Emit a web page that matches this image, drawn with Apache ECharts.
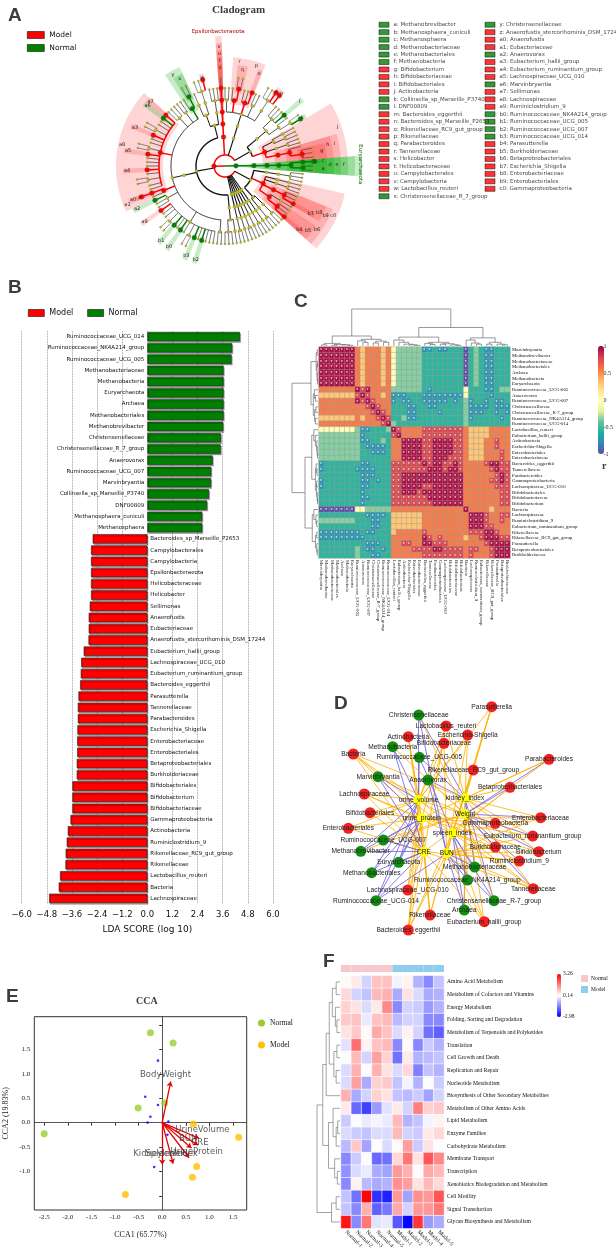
<!DOCTYPE html>
<html>
<head>
<meta charset="utf-8">
<script src="https://cdn.jsdelivr.net/npm/echarts@6/dist/echarts.min.js"></script>
<style>
html, body { margin: 0; padding: 0; background: #fff; }
#fig { width: 616px; height: 1259px; }
</style>
</head>
<body>
<div id="fig"></div>
<script>
// ---------- B: LEfSe LDA scores (positive = Normal, negative = Model) ----------
const ldaNames = ['Ruminococcaceae_UCG_014', 'Ruminococcaceae_NK4A214_group', 'Ruminococcaceae_UCG_005', 'Methanobacteriaceae',
  'Methanobacteria', 'Euryarchaeota', 'Archaea', 'Methanobacteriales', 'Methanobrevibacter', 'Christensenellaceae',
  'Christensenellaceae_R_7_group', 'Anaerovorax', 'Ruminococcaceae_UCG_007', 'Marvinbryantia', 'Collinsella_sp_Marseille_P3740',
  'DNF00809', 'Methanosphaera_cuniculi', 'Methanosphaera', 'Bacteroides_sp_Marseille_P2653', 'Campylobacterales',
  'Campylobacteria', 'Epsilonbacteraeota', 'Helicobacteraceae', 'Helicobacter', 'Sellimonas', 'Anaerofustis', 'Eubacteriaceae',
  'Anaerofustis_stercorihominis_DSM_17244', 'Eubacterium_hallii_group', 'Lachnospiraceae_UCG_010', 'Eubacterium_ruminantium_group',
  'Bacteroides_eggerthii', 'Parasutterella', 'Tannerellaceae', 'Parabacteroides', 'Escherichia_Shigella', 'Enterobacteriaceae',
  'Enterobacteriales', 'Betaproteobacteriales', 'Burkholderiaceae', 'Bifidobacteriales', 'Bifidobacterium', 'Bifidobacteriaceae',
  'Gammaproteobacteria', 'Actinobacteria', 'Ruminiclostridium_9', 'Rikenellaceae_RC9_gut_group', 'Rikenellaceae',
  'Lactobacillus_reuteri', 'Bacteria', 'Lachnospiraceae'];
const ldaScores = [4.42, 4.05, 4.02, 3.64, 3.64, 3.64, 3.64, 3.64, 3.62, 3.51, 3.50, 3.12, 3.05, 3.04, 2.94, 2.85, 2.62, 2.62,
  -2.61, -2.69, -2.69, -2.69, -2.69, -2.69, -2.75, -2.80, -2.80, -2.81, -3.04, -3.16, -3.18, -3.21, -3.29, -3.32, -3.32,
  -3.34, -3.35, -3.35, -3.37, -3.37, -3.58, -3.58, -3.58, -3.67, -3.80, -3.85, -3.90, -3.91, -4.17, -4.23, -4.69];

// ---------- A: cladogram keys and taxonomy ----------
const cladeLetters = ['a', 'b', 'c', 'd', 'e', 'f', 'g', 'h', 'i', 'j', 'k', 'l', 'm', 'n', 'o', 'p', 'q', 'r', 's', 't', 'u', 'v',
  'w', 'x', 'y', 'z', 'a0', 'a1', 'a2', 'a3', 'a4', 'a5', 'a6', 'a7', 'a8', 'a9', 'b0', 'b1', 'b2', 'b3', 'b4', 'b5', 'b6', 'b7',
  'b8', 'b9', 'c0'];
const cladeTaxa = ['Methanobrevibacter', 'Methanosphaera_cuniculi', 'Methanosphaera', 'Methanobacteriaceae', 'Methanobacteriales',
  'Methanobacteria', 'Bifidobacterium', 'Bifidobacteriaceae', 'Bifidobacteriales', 'Actinobacteria', 'Collinsella_sp_Marseille_P3740',
  'DNF00809', 'Bacteroides_eggerthii', 'Bacteroides_sp_Marseille_P2653', 'Rikenellaceae_RC9_gut_group', 'Rikenellaceae',
  'Parabacteroides', 'Tannerellaceae', 'Helicobacter', 'Helicobacteraceae', 'Campylobacterales', 'Campylobacteria',
  'Lactobacillus_reuteri', 'Christensenellaceae_R_7_group', 'Christensenellaceae', 'Anaerofustis_stercorihominis_DSM_17244',
  'Anaerofustis', 'Eubacteriaceae', 'Anaerovorax', 'Eubacterium_hallii_group', 'Eubacterium_ruminantium_group',
  'Lachnospiraceae_UCG_010', 'Marvinbryantia', 'Sellimonas', 'Lachnospiraceae', 'Ruminiclostridium_9',
  'Ruminococcaceae_NK4A214_group', 'Ruminococcaceae_UCG_005', 'Ruminococcaceae_UCG_007', 'Ruminococcaceae_UCG_014',
  'Parasutterella', 'Burkholderiaceae', 'Betaproteobacteriales', 'Escherichia_Shigella', 'Enterobacteriaceae',
  'Enterobacteriales', 'Gammaproteobacteria'];

// taxonomy tree in newick form, "_" = unlabelled taxon
const archaeaClade = '((((((_,_)Methanobrevibacter,(Methanosphaera_cuniculi)Methanosphaera)Methanobacteriaceae)Methanobacteriales)Methanobacteria)Euryarchaeota)Archaea';
const actinoClade = '(((((_,_,_)Bifidobacterium,_)Bifidobacteriaceae)Bifidobacteriales,((_,_)_)_,((_,_)_,(_)_)_)Actinobacteria,((((Collinsella_sp_Marseille_P3740,_)Collinsella,_)_,(DNF00809,_,_,_)_)_)_)_';
const bacteroClade = '(((((Bacteroides_eggerthii,Bacteroides_sp_Marseille_P2653,_,_)Bacteroides)_,(_,_)_,(Rikenellaceae_RC9_gut_group,_,_)Rikenellaceae,((_,_)Parabacteroides,_)Tannerellaceae,(_,_)_)_)_)_';
const epsilonClade = '(((((_)Helicobacter)Helicobacteraceae)Campylobacterales)Campylobacteria)Epsilonbacteraeota';
const bacilliClade = '(((_,_,_)_)_,(((Lactobacillus_reuteri,_,_)Lactobacillus)_,(_)_)_)_';
const clostridiaClade = '((((_,_)Christensenellaceae_R_7_group,_)Christensenellaceae,(_,_)_,(_,_,_)_,(Sellimonas,Marvinbryantia,_,_,(_,_)_,Eubacterium_hallii_group,_,_,(_,_)_,Lachnospiraceae_UCG_010,_,_,_,Eubacterium_ruminantium_group,_,(_,_)_,_,_)Lachnospiraceae,((Anaerofustis_stercorihominis_DSM_17244)Anaerofustis,_)Eubacteriaceae,(Anaerovorax,_,_)_,(Ruminiclostridium_9,_,_,(_,_)_,Ruminococcaceae_UCG_005,_,Ruminococcaceae_NK4A214_group,_,(_,_)_,Ruminococcaceae_UCG_014,_,Ruminococcaceae_UCG_007,_,_,_)Ruminococcaceae,(_,_)_)_)_';
const negativClade = '(((_,_,_)_,(_)_)_)_';
const otherPhyla = ['((((_,_)_)_)_)_', '((((_)_)_)_)_', '((((_,_)_)_)_)_', '((((_)_)_)_)_', '((((_,_)_)_)_)_', '((((_)_)_)_)_'];
const proteoClade = '((((_,_)_)_,((_,_)_)_)_,(((Parasutterella,_,_)Burkholderiaceae,(_)_)Betaproteobacteriales,((Escherichia_Shigella,_,_)Enterobacteriaceae)Enterobacteriales,((_,_)_)_,((_)_)_)Gammaproteobacteria,(((_,_,_)_)_)_)_';

// ---------- C: Spearman correlation among discriminant taxa ----------
const corrTaxa = ['Marvinbryantia', 'Methanobrevibacter', 'Methanobacteriaceae', 'Methanobacteriales', 'Archaea', 'Methanobacteria',
  'Euryarchaeota', 'Ruminococcaceae_UCG-005', 'Anaerovorax', 'Ruminococcaceae_UCG-007', 'Christensenellaceae',
  'Christensenellaceae_R-7_group', 'Ruminococcaceae_NK4A214_group', 'Ruminococcaceae_UCG-014', 'Lactobacillus_reuteri',
  'Eubacterium_hallii_group', 'Actinobacteria', 'Escherichia-Shigella', 'Enterobacteriales', 'Enterobacteriaceae',
  'Bacteroides_eggerthii', 'Tannerellaceae', 'Parabacteroides', 'Gammaproteobacteria', 'Lachnospiraceae_UCG-010',
  'Bifidobacteriales', 'Bifidobacteriaceae', 'Bifidobacterium', 'Bacteria', 'Lachnospiraceae', 'Ruminiclostridium_9',
  'Eubacterium_ruminantium_group', 'Rikenellaceae', 'Rikenellaceae_RC9_gut_group', 'Parasutterella', 'Betaproteobacteriales',
  'Burkholderiaceae'];
// one letter per cell
const corrLevel = { P: -1, B: -0.85, b: -0.72, T: -0.55, g: -0.35, l: 0.02, y: 0.3, o: 0.55, r: 0.76, R: 0.95 };
const corrRows = [
  'RRRRRRR|oyoooyo|l|ggggg|bbTbbTTT|P|TgTbbTTT',
  'RRRRRRR|oyoooyo|l|ggggg|TTTTTTTT|P|TgTbbTTT',
  'RRRRRRR|oyoooyo|l|ggggg|TTTTTTTT|P|TgTbbTTT',
  'RRRRRRR|oyoooyo|l|ggggg|TTTTTTTT|P|TgTbbTTT',
  'RRRRRRR|oyoooyo|l|ggggg|TTTTTTTT|P|TgTbbTTT',
  'RRRRRRR|oyoooyo|l|ggggg|TTTTTTTT|P|TgTbbTTT',
  'RRRRRRR|oyoooyo|l|ggggg|TTTTTTTT|P|TgTbbTTT',
  'ooooooo|RrRoooo|g|ggggg|TbTTTTTT|l|TTTbbTgg',
  'yyyyyyy|rRrooyo|b|bbTTT|bbbbbbbb|l|TTTTbTTT',
  'ooooooo|RrRrooo|b|TbbTT|bbbbbTbT|g|bTTbTbbT',
  'ooooooo|oorRroo|T|TTbbT|TbbTTTTT|g|bbbbTbbb',
  'ooooooo|ooorRro|T|TTbbT|TTTbTTTT|g|bbbTTbTb',
  'yyyyyyy|oyoorRr|T|TgbbT|TTTTTTTT|g|bTTTTTbT',
  'ooooooo|ooooorR|g|TTTTT|TTTTTTTT|g|TTTTTTTT',
  'lllllll|gbbTTTg|R|roooo|rrrrrrrr|o|yyyyoooo',
  'ggggggg|gbTTTTT|r|Roooo|rrrrrrrr|o|yyyyoooo',
  'ggggggg|gbbTTgT|o|oRRRR|rrRRRRrr|o|yyyooroo',
  'ggggggg|gTbbbbT|o|oRRRR|rrRRRRrr|o|yyyooroo',
  'ggggggg|gTTbbbT|o|oRRRR|rrRRRRrr|o|yyyoooro',
  'ggggggg|gTTTTTT|o|oRRRR|rrRRRrrr|o|yyyoooro',
  'bTTTTTT|TbbTTTT|r|rrrrr|RrRRrrRr|o|ooorRRrr',
  'bTTTTTT|bbbbTTT|r|rrrrr|rRRRrRRr|o|oooorRrr',
  'TTTTTTT|TbbbTTT|r|rRRRR|RRRRRRRR|o|ooooorRr',
  'bTTTTTT|TbbTbTT|r|rRRRR|RRRRRRRR|o|oooorrRr',
  'bTTTTTT|TbbTTTT|r|rRRRR|rrRRRRRR|o|ooooorrr',
  'TTTTTTT|TbTTTTT|r|rRRRr|RRRRRRRR|o|oooooorr',
  'TTTTTTT|TbbTTTT|r|rrrrr|rRRRRRRR|o|oooooorr',
  'TTTTTTT|TbTTTTT|r|rrrrr|rrRRRRRR|o|oooooorr',
  'PPPPPPP|llggggg|o|ooooo|oooooooo|R|ooooyooo',
  'TTTTTTT|TTbbbbT|y|yyyyy|oooooooo|o|RRRroorr',
  'ggggggg|TTTbbTT|y|yyyyy|oooooooo|o|RRRrooro',
  'TTTTTTT|TTTbbTT|y|yyyyy|oooooooo|o|RRRrrooo',
  'bbbbbbb|bTbbTTT|y|ooooo|rooooooo|o|rrrRRroo',
  'bbbbbbb|bbTTTTT|o|ooooo|Rroroooo|y|oorRRRrr',
  'TTTTTTT|TTbbbTT|o|orroo|RRrrrooo|o|ooorRRRR',
  'TTTTTTT|gTbbTbT|o|ooorr|rrRRrrrr|o|rroorRRR',
  'TTTTTTT|gTTbbTT|o|ooooo|rrrrrrrr|o|rooorRRR'
];
// clustering of the taxa: [left, right, height], leaf = taxon index
const corrTree = [
  [[[0, 1, 0.03], [[2, 3, 0.02], [4, [5, 6, 0.02], 0.03], 0.04], 0.07],
   [[7, [8, 9, 0.1], 0.14], [[10, 11, 0.08], [12, 13, 0.1], 0.13], 0.18], 0.27],
  [[[14, [15, [16, [17, [18, 19, 0.02], 0.03], 0.05], 0.1], 0.16],
    [[20, [21, 22, 0.04], 0.07], [[23, 24, 0.05], [25, [26, 27, 0.02], 0.03], 0.06], 0.1], 0.24],
   [[28, [29, [30, 31, 0.05], 0.08], 0.16], [[32, 33, 0.05], [34, [35, 36, 0.03], 0.05], 0.1], 0.22], 0.5],
  1.0];

// ---------- D: correlation network ----------
const netRed = [['Parasutterella', 171.7, 6.7], ['Lactobacillus_reuteri', 126, 26], ['Escherichia-Shigella', 147.7, 35],
  ['Actinobacteria', 88.3, 36.7], ['Bifidobacteriaceae', 124, 43.3], ['Bacteria', 33.3, 54], ['Parabacteroides', 229, 59.3],
  ['Rikenellaceae_RC9_gut_group', 153.3, 70], ['Betaproteobacteriales', 190, 87.3], ['Lachnospiraceae', 44.3, 94],
  ['Bifidobacteriales', 50, 112.7], ['Enterobacteriaceae', 220.7, 117.7], ['Gammaproteobacteria', 175.3, 123.3],
  ['Enterobacteriales', 28.3, 128.3], ['Eubacterium_ruminantium_group', 212.7, 136], ['Burkholderiaceae', 175.3, 147],
  ['Bifidobacterium', 218.7, 151.7], ['Ruminiclostridium_9', 199.3, 161], ['Tannerellaceae', 213.3, 188.7],
  ['Lachnospiraceae_UCG-010', 87.7, 190], ['Rikenellaceae', 110, 215], ['Eubacterium_hallii_group', 164.3, 221.7],
  ['Bacteroides_eggerthii', 88.3, 230]];
const netGreen = [['Christensenellaceae', 98.7, 15], ['Methanobacteria', 72.7, 46.7], ['Ruminococcaceae_UCG-005', 99.3, 57.3],
  ['Marvinbryantia', 58, 76.7], ['Anaerovorax', 108, 80], ['Ruminococcaceae_UCG-007', 63.3, 140], ['Methanobrevibacter', 40.7, 151.3],
  ['Euryarchaeota', 78.7, 162.3], ['Methanobacteriales', 51.7, 172.7], ['Methanobacteriaceae', 154.7, 167],
  ['Ruminococcaceae_NK4A214_group', 147.3, 180], ['Christensenellaceae_R-7_group', 174, 200.7], ['Archaea', 144.3, 210],
  ['Ruminococcaceae_UCG-014', 56, 200.7]];
const netEnv = [['urine_volume', 98.7, 100], ['kidney_index', 145, 98.3], ['Weight', 145, 114], ['urine_protein', 101.7, 118.3],
  ['spleen_index', 132.3, 133.3], ['CRE', 104, 151.7], ['BUN', 126.7, 153.3]];
// [clinical index, positively correlated taxa, negatively correlated taxa]
const netEdges = [
  ['urine_volume', 'Bacteria Lachnospiraceae Bifidobacteriales Enterobacteriales Actinobacteria Lactobacillus_reuteri Bifidobacteriaceae Escherichia-Shigella Parasutterella Lachnospiraceae_UCG-010 Bacteroides_eggerthii Rikenellaceae Gammaproteobacteria Burkholderiaceae Tannerellaceae',
    'Methanobacteria Marvinbryantia Christensenellaceae Ruminococcaceae_UCG-005 Methanobrevibacter Methanobacteriales Ruminococcaceae_UCG-014 Euryarchaeota'],
  ['kidney_index', 'Parasutterella Parabacteroides Betaproteobacteriales Enterobacteriaceae Rikenellaceae_RC9_gut_group Escherichia-Shigella Lactobacillus_reuteri Bifidobacterium Eubacterium_ruminantium_group Tannerellaceae Eubacterium_hallii_group Bacteria',
    'Christensenellaceae Anaerovorax Ruminococcaceae_UCG-005 Methanobacteriaceae Archaea Christensenellaceae_R-7_group'],
  ['Weight', 'Christensenellaceae Methanobacteria Marvinbryantia Anaerovorax Ruminococcaceae_UCG-007 Methanobrevibacter Ruminococcaceae_NK4A214_group Christensenellaceae_R-7_group Archaea',
    'Parabacteroides Betaproteobacteriales Enterobacteriaceae Eubacterium_ruminantium_group Bifidobacterium Ruminiclostridium_9 Tannerellaceae Burkholderiaceae'],
  ['urine_protein', 'Bacteria Lachnospiraceae Bifidobacteriales Enterobacteriales Actinobacteria Bifidobacteriaceae Parabacteroides Enterobacteriaceae Gammaproteobacteria Eubacterium_ruminantium_group Bifidobacterium Lachnospiraceae_UCG-010 Bacteroides_eggerthii Rikenellaceae',
    'Marvinbryantia Methanobrevibacter Methanobacteriales Ruminococcaceae_UCG-007 Euryarchaeota Ruminococcaceae_UCG-014'],
  ['spleen_index', 'Parasutterella Rikenellaceae_RC9_gut_group Betaproteobacteriales Enterobacteriaceae Burkholderiaceae Ruminiclostridium_9 Tannerellaceae Eubacterium_hallii_group Rikenellaceae Bacteroides_eggerthii Lachnospiraceae Bacteria',
    'Methanobacteriaceae Ruminococcaceae_NK4A214_group Christensenellaceae_R-7_group Archaea Ruminococcaceae_UCG-005'],
  ['CRE', 'Bacteria Enterobacteriales Bifidobacteriales Lachnospiraceae Lachnospiraceae_UCG-010 Bacteroides_eggerthii Rikenellaceae Eubacterium_hallii_group Tannerellaceae Ruminiclostridium_9 Parabacteroides Actinobacteria Lactobacillus_reuteri',
    'Methanobrevibacter Methanobacteriales Ruminococcaceae_UCG-007 Ruminococcaceae_UCG-014 Euryarchaeota Marvinbryantia Methanobacteria'],
  ['BUN', 'Tannerellaceae Eubacterium_hallii_group Rikenellaceae Bacteroides_eggerthii Bifidobacterium Ruminiclostridium_9 Burkholderiaceae Eubacterium_ruminantium_group Enterobacteriaceae Parasutterella Escherichia-Shigella Bifidobacteriaceae',
    'Archaea Christensenellaceae_R-7_group Ruminococcaceae_NK4A214_group Methanobacteriaceae Ruminococcaceae_UCG-014 Anaerovorax Christensenellaceae']
];

// ---------- E: CCA ----------
const ccaXRange = [-2.71, 1.79];
const ccaYRange = [-1.79, 2.17];
const ccaNormal = [[-0.25, 1.84], [0.23, 1.63], [0.05, 0.40], [-0.51, 0.30], [-2.5, -0.23]];
const ccaModel = [[0.66, -0.03], [1.62, -0.30], [0.73, -0.90], [0.64, -1.12], [-0.78, -1.47]];
const ccaTaxa = [[-0.09, 1.27], [-0.36, 0.53], [-0.09, 0.36], [-0.25, 0.12], [-0.31, 0.0], [0.13, 0.02], [0.11, -0.25], [-0.17, -0.91]];
const ccaEnv = [['BodyWeight', 0.18, 0.84], ['UrineVolume', 0.78, -0.32], ['CRE', 0.76, -0.46], ['BUN', 0.62, -0.52],
  ['UrineProtein', 0.57, -0.72], ['KidneyIndex', 0.23, -0.84], ['SpleenIndex', 0.0, -0.86]];
const ccaEnvLabel = [['BodyWeight', 0.07, 0.99], ['UrineVolume', 0.85, -0.15], ['BUN', 0.55, -0.34], ['CRE', 0.80, -0.42],
  ['UrineProtein', 0.73, -0.59], ['KidneyIndex', -0.06, -0.63], ['SpleenIndex', 0.2, -0.63]];
const ccaYLabels = [-1, -0.5, 0, 0.5, 1, 1.5];

// ---------- F: KEGG level-2 pathways, z-scores ----------
const fSamples = ['Normal-1', 'Normal-2', 'Normal-3', 'Normal-4', 'Normal-5', 'Model-1', 'Model-2', 'Model-3', 'Model-4', 'Model-5'];
const fPathways = ['Amino Acid Metabolism', 'Metabolism of Cofactors and Vitamins', 'Energy Metabolism', 'Folding, Sorting and Degradation',
  'Metabolism of Terpenoids and Polyketides', 'Translation', 'Cell Growth and Death', 'Replication and Repair', 'Nucleotide Metabolism',
  'Biosynthesis of Other Secondary Metabolites', 'Metabolism of Other Amino Acids', 'Lipid Metabolism', 'Enzyme Families',
  'Carbohydrate Metabolism', 'Membrane Transport', 'Transcription', 'Xenobiotics Biodegradation and Metabolism', 'Cell Motility',
  'Signal Transduction', 'Glycan Biosynthesis and Metabolism'];
const fValues = [
  [0.2, 0.4, -0.4, 0.9, 0.9, 0.0, 0.3, -0.8, -1.3, -0.6],
  [0.6, -0.4, -0.6, 1.0, 1.1, -0.9, 0.5, -0.3, -0.9, -0.8],
  [0.7, 0.5, -0.3, 0.4, 1.6, -1.3, -0.4, -0.5, -1.1, -0.8],
  [0.8, 0.9, -0.1, 0.9, 1.0, -0.7, -0.4, -0.4, -1.3, -1.3],
  [0.5, 0.8, 0.2, 1.2, 0.9, -0.3, 0.3, -0.4, -1.6, -1.8],
  [-0.2, 1.9, 0.3, 0.9, 1.0, -1.3, 0.2, -1.3, -0.5, -0.8],
  [0.1, 1.0, -0.4, 1.3, 0.7, -1.6, 0.4, -0.8, -0.7, -0.6],
  [-0.3, 1.1, 0.1, 1.1, 0.5, -0.3, 0.6, -1.4, -0.6, -0.8],
  [-0.3, 1.3, -0.9, 0.7, 0.8, -0.6, 0.0, -0.8, 0.1, -0.5],
  [1.1, -0.9, -0.4, 0.7, 0.5, -0.6, -0.7, -0.5, -1.0, -0.4],
  [0.4, -1.7, -2.2, -1.1, -0.2, 0.4, -0.4, 1.7, 0.7, 0.8],
  [-0.5, 0.1, -0.1, 0.0, -0.1, 1.0, -0.8, -0.6, 0.0, 0.3],
  [-0.3, -0.5, -0.6, -0.3, -0.3, 1.0, -0.4, -0.5, 0.4, 0.6],
  [-0.7, 0.8, -1.0, 0.1, -0.3, 0.2, 1.3, -0.5, 0.5, 0.1],
  [-1.3, -0.5, 0.1, -1.7, -1.6, 0.6, 1.8, 0.5, 2.2, 1.6],
  [-1.2, -0.3, -0.1, -0.9, -1.0, 1.4, 1.1, 0.1, 1.2, 1.0],
  [-1.3, 0.3, -0.7, -0.9, -0.8, 1.5, 1.3, 0.5, 1.0, 0.6],
  [-0.6, -1.6, 3.2, -2.4, -2.6, 1.4, -1.0, 1.5, 1.4, 2.2],
  [-0.6, -1.3, 1.1, -1.8, -1.5, 1.2, -0.4, 1.4, 1.4, 1.8],
  [3.0, -1.3, 1.8, -0.2, -0.1, -1.9, -2.9, 2.6, -1.1, -0.9]
];
const fTree = [[[[[[0, 1, 0.1], [2, [3, 4, 0.08], 0.12], 0.2], [[5, 6, 0.08], [7, 8, 0.1], 0.16], 0.28], 9, 0.36],
  [[10, [[11, 12, 0.06], 13, 0.1], 0.18], [14, [15, 16, 0.07], 0.14], 0.3], 0.45], [[17, 18, 0.1], 19, 0.22], 0.6];
const fGroupColors = { Normal: '#f9c6cc', Model: '#8ecdf0' };

// ================= helpers =================
const classColor = { Model: '#ff0000', Normal: '#008000' };
const wedgeColor = { Model: 'rgba(255,0,0,0.17)', Normal: 'rgba(0,170,0,0.22)' };
const featClass = {};
ldaNames.forEach((nm, i) => { featClass[nm] = ldaScores[i] > 0 ? 'Normal' : 'Model'; });
const keyOf = {};
cladeTaxa.forEach((nm, i) => { keyOf[nm] = cladeLetters[i]; });

function parseNewick(str) {
  let i = 0;
  function node() {
    const n = { children: [] };
    if (str[i] === '(') {
      i++;
      n.children.push(node());
      while (str[i] === ',') { i++; n.children.push(node()); }
      i++;
    }
    let name = '';
    while (i < str.length && ',()'.indexOf(str[i]) < 0) name += str[i++];
    n.name = name;
    return n;
  }
  return node();
}

const cladeNewick = '(' + archaeaClade + ',(' + [actinoClade, bacteroClade, epsilonClade,
  '(' + bacilliClade + ',' + clostridiaClade + ',' + negativClade + ')_'].concat(otherPhyla, [proteoClade]).join(',') + ')Bacteria)Root';
const cladeNodes = [];
let nLeaf = 0;
(function lay(n, d, parent) {
  n.depth = d; n.parent = parent; cladeNodes.push(n);
  if (!n.children.length) { n.a = nLeaf++; n.a0 = n.a1 = n.a; return; }
  n.children.forEach(c => lay(c, d + 1, n));
  const f = n.children[0], l = n.children[n.children.length - 1];
  n.a0 = f.a0; n.a1 = l.a1; n.a = (f.a + l.a) / 2;
})(parseNewick(cladeNewick), 0, null);

const cladeR = [0, 11, 29, 42, 54, 66, 78, 89];
const cladeLineW = [1.4, 1.4, 1.4, 1.2, 0.9, 0.7, 0.55, 0.5];
const outerR = d => 95 + (7 - d) * 7;
function arcPts(api, r, a0, a1) {
  const pts = [];
  const k = Math.max(2, Math.ceil(Math.abs(a1 - a0) / 0.25) + 1);
  for (let j = 0; j < k; j++) pts.push(api.coord([r, a0 + (a1 - a0) * j / (k - 1)]));
  return pts;
}

function dendroSegments(tree) {
  const segs = [];
  (function walk(n) {
    if (typeof n === 'number') return { pos: n, h: 0 };
    const a = walk(n[0]), b = walk(n[1]);
    segs.push([[a.pos, a.h], [a.pos, n[2]], [b.pos, n[2]], [b.pos, b.h]]);
    return { pos: (a.pos + b.pos) / 2, h: n[2] };
  })(tree);
  return segs;
}
function dendroSeries(tree, grid, swap, color) {
  const segs = dendroSegments(tree);
  return {
    type: 'custom', xAxisIndex: grid, yAxisIndex: grid, data: [[0, 0]], silent: true, clip: false,
    renderItem: (params, api) => ({
      type: 'group',
      children: segs.map(s => ({
        type: 'polyline',
        shape: { points: s.map(p => api.coord(swap ? [p[1], p[0]] : p)) },
        style: { stroke: color, lineWidth: 0.6, fill: null }
      }))
    })
  };
}

// correlation heatmap cells
const corrData = [];
corrRows.forEach((row, i) => {
  row.replace(/\|/g, '').split('').forEach((ch, j) => {
    const v = corrLevel[ch];
    corrData.push([j, i, v, Math.abs(v) >= 0.7 ? 1 : 0]);
  });
});

// network nodes and links
const netNodes = [];
netRed.forEach(([n, x, y]) => netNodes.push({ name: n, value: [x, y], symbolSize: 11, itemStyle: { color: '#f22020' } }));
netGreen.forEach(([n, x, y]) => netNodes.push({ name: n, value: [x, y], symbolSize: 11, itemStyle: { color: '#0f900f' } }));
netEnv.forEach(([n, x, y]) => netNodes.push({ name: n, value: [x, y], symbolSize: 10, itemStyle: { color: '#ffff00' } }));
const netLinks = [];
netEdges.forEach(([env, pos, neg]) => {
  pos.split(' ').forEach(t => netLinks.push({ source: env, target: t, lineStyle: { color: '#ffb000' } }));
  neg.split(' ').forEach(t => netLinks.push({ source: env, target: t, lineStyle: { color: '#6a5ee8' } }));
});

const fData = [];
fValues.forEach((row, i) => row.forEach((v, j) => fData.push([j, i, v])));

const serif = 'Liberation Serif';
const sans = 'DejaVu Sans';
const hidden = { show: false };
const axisOff = { axisLine: hidden, axisTick: hidden, axisLabel: hidden, splitLine: hidden };

const option = {
  animation: false,
  backgroundColor: '#fff',
  title: [
    { text: 'A', left: 3, top: 1, textStyle: { fontSize: 19, fontWeight: 'bold', fontFamily: 'Liberation Sans' } },
    { text: 'Cladogram', left: 207, top: 0, textStyle: { fontSize: 11, fontWeight: 'bold', fontFamily: serif } },
    { text: 'B', left: 3, top: 273, textStyle: { fontSize: 19, fontWeight: 'bold', fontFamily: 'Liberation Sans' } },
    { text: 'C', left: 289, top: 287, textStyle: { fontSize: 19, fontWeight: 'bold', fontFamily: 'Liberation Sans' } },
    { text: 'D', left: 329, top: 689, textStyle: { fontSize: 19, fontWeight: 'bold', fontFamily: 'Liberation Sans' } },
    { text: 'E', left: 1, top: 982, textStyle: { fontSize: 19, fontWeight: 'bold', fontFamily: 'Liberation Sans' } },
    { text: 'F', left: 318, top: 947, textStyle: { fontSize: 19, fontWeight: 'bold', fontFamily: 'Liberation Sans' } },
    { text: 'CCA', left: 131, top: 991, textStyle: { fontSize: 10, fontWeight: 'bold', fontFamily: serif } },
    { text: 'r', left: 597, top: 456, textStyle: { fontSize: 10, fontWeight: 'bold', fontFamily: serif } }
  ],
  legend: [
    { data: ['Model', 'Normal'], orient: 'vertical', left: 22, top: 26, itemWidth: 17, itemHeight: 7, itemGap: 5, icon: 'rect',
      itemStyle: { borderColor: '#111', borderWidth: 0.6 }, textStyle: { fontSize: 7.5, fontFamily: sans, color: '#111' }, selectedMode: false },
    { data: ['Model', 'Normal'], orient: 'horizontal', left: 23, top: 304, itemWidth: 16, itemHeight: 7, itemGap: 14, icon: 'rect',
      itemStyle: { borderColor: '#111', borderWidth: 0.6 }, textStyle: { fontSize: 8, fontFamily: sans, color: '#111' }, selectedMode: false },
    { data: [{ name: 'Normal', icon: 'circle', itemStyle: { color: '#9acd32', borderWidth: 0 } }, { name: 'Model', icon: 'circle', itemStyle: { color: '#ffc000', borderWidth: 0 } }],
      orient: 'vertical', left: 253, top: 1014, itemWidth: 7, itemHeight: 7, itemGap: 14, textStyle: { fontSize: 7.5, fontFamily: serif, color: '#111' }, selectedMode: false },
    { data: [{ name: 'Normal', icon: 'rect', itemStyle: { color: fGroupColors.Normal, borderWidth: 0 } }, { name: 'Model', icon: 'rect', itemStyle: { color: fGroupColors.Model, borderWidth: 0 } }],
      orient: 'vertical', left: 581, top: 975, itemWidth: 7, itemHeight: 7, itemGap: 4, padding: 0,
      textStyle: { fontSize: 5.5, fontFamily: serif, color: '#111', padding: [0, 0, 0, -2] }, selectedMode: false }
  ],
  visualMap: [
    { type: 'continuous', seriesIndex: 6, dimension: 2, min: -1, max: 1, left: 598, top: 346, itemWidth: 6, itemHeight: 108,
      padding: 0, calculable: false, show: true, text: null,
      inRange: { color: ['#5e4fa2', '#3288bd', '#1db19c', '#66c2a5', '#e6f598', '#ffffbf', '#fee08b', '#fdae61', '#f46d43', '#d53e4f', '#9e0142'] } },
    { type: 'continuous', seriesIndex: 15, dimension: 2, min: -2.98, max: 3.26, left: 557, top: 974, itemWidth: 4, itemHeight: 43,
      padding: 0, calculable: false, show: true, text: null, inRange: { color: ['#0000ff', '#ffffff', '#ff0000'] } }
  ],
  polar: [{ center: [225, 166], radius: 150 }],
  angleAxis: [{ polarIndex: 0, type: 'value', min: 0, max: nLeaf, startAngle: -360 / nLeaf, clockwise: false, show: false }],
  radiusAxis: [{ polarIndex: 0, type: 'value', min: 0, max: 150, show: false }],
  grid: [
    { left: 21.7, top: 331, width: 251.3, height: 573 },          // 0 B bars
    { left: 384, top: 21, width: 106, height: 179 },              // 1 A key list
    { left: 319, top: 347, width: 191, height: 211 },             // 2 C heatmap
    { left: 319, top: 309, width: 191, height: 37 },              // 3 C top tree
    { left: 292, top: 347, width: 26, height: 211 },              // 4 C left tree
    { left: 598, top: 346, width: 6, height: 108 },               // 5 C colour scale
    { left: 320, top: 700, width: 296, height: 240 },             // 6 D network
    { left: 34.3, top: 1016.7, width: 212.4, height: 193.3, show: true, borderColor: '#333', borderWidth: 1 }, // 7 E
    { left: 341, top: 975.7, width: 103, height: 252.6 },         // 8 F heatmap
    { left: 317, top: 975.7, width: 23, height: 252.6 },          // 9 F tree
    { left: 341, top: 965, width: 103, height: 7 },               // 10 F groups
    { left: 557, top: 974, width: 4, height: 43 }                 // 11 F colour scale
  ],
  xAxis: [
    { gridIndex: 0, type: 'value', min: -6, max: 6, interval: 1.2, name: 'LDA SCORE (log 10)', nameLocation: 'middle', nameGap: 21,
      nameTextStyle: { fontSize: 9, fontFamily: sans, color: '#111' }, axisLine: hidden, axisTick: hidden,
      axisLabel: { fontSize: 8.5, fontFamily: sans, color: '#111', margin: 6,
        formatter: v => (v < -1e-9 ? '\u2212' : '') + Math.abs(v).toFixed(1) },
      splitLine: { show: true, lineStyle: { type: 'dotted', color: '#888', width: 0.8 } } },
    { gridIndex: 1, type: 'value', min: 0, max: 1, ...axisOff },
    { gridIndex: 2, type: 'category', data: corrTaxa, axisLine: hidden, axisTick: hidden, splitLine: hidden,
      axisLabel: { interval: 0, rotate: -90, fontSize: 4.8, fontFamily: serif, color: '#111', margin: 2 } },
    { gridIndex: 3, type: 'value', min: -0.5, max: 36.5, ...axisOff },
    { gridIndex: 4, type: 'value', min: 0, max: 1, inverse: true, ...axisOff },
    { gridIndex: 5, type: 'value', ...axisOff },
    { gridIndex: 6, type: 'value', min: 0, max: 296, ...axisOff },
    { gridIndex: 7, type: 'value', min: ccaXRange[0], max: ccaXRange[1], splitNumber: 9, name: 'CCA1 (65.77%)', nameLocation: 'middle', nameGap: 21,
      nameTextStyle: { fontSize: 8, fontFamily: serif, color: '#222' },
      axisLine: { lineStyle: { color: '#333' } }, axisTick: { length: 3, lineStyle: { color: '#333' } }, splitLine: hidden,
      axisLabel: { fontSize: 7, fontFamily: serif, color: '#222', margin: 4, showMinLabel: false, showMaxLabel: false, formatter: v => v.toFixed(1) } },
    { gridIndex: 8, type: 'category', data: fSamples, axisLine: hidden, axisTick: hidden, splitLine: hidden,
      axisLabel: { interval: 0, rotate: -45, fontSize: 5.6, fontFamily: serif, color: '#111', margin: 3 } },
    { gridIndex: 9, type: 'value', min: 0, max: 0.6, inverse: true, ...axisOff },
    { gridIndex: 10, type: 'category', data: fSamples, ...axisOff },
    { gridIndex: 11, type: 'value', ...axisOff }
  ],
  yAxis: [
    { gridIndex: 0, type: 'category', data: ldaNames, inverse: true, ...axisOff },
    { gridIndex: 1, type: 'category', data: Array.from({ length: 24 }, (_, i) => i), inverse: true, ...axisOff },
    { gridIndex: 2, type: 'category', data: corrTaxa, inverse: true, position: 'right', axisLine: hidden, axisTick: hidden, splitLine: hidden,
      axisLabel: { interval: 0, fontSize: 4.8, fontFamily: serif, color: '#111', margin: 2 } },
    { gridIndex: 3, type: 'value', min: 0, max: 1, ...axisOff },
    { gridIndex: 4, type: 'value', min: -0.5, max: 36.5, inverse: true, ...axisOff },
    { gridIndex: 5, type: 'value', min: -1, max: 1, interval: 0.5, position: 'right', axisLine: hidden, axisTick: hidden, splitLine: hidden,
      axisLabel: { fontSize: 6, fontFamily: serif, color: '#222', margin: 3 } },
    { gridIndex: 6, type: 'value', min: 0, max: 240, inverse: true, ...axisOff },
    { gridIndex: 7, type: 'value', min: ccaYRange[0], max: ccaYRange[1], splitNumber: 8, name: 'CCA2 (19.83%)', nameLocation: 'middle', nameGap: 24,
      nameTextStyle: { fontSize: 8, fontFamily: serif, color: '#222' },
      axisLine: { lineStyle: { color: '#333' } }, axisTick: { length: 3, lineStyle: { color: '#333' } }, splitLine: hidden,
      axisLabel: { fontSize: 7, fontFamily: serif, color: '#222', margin: 4, showMinLabel: false, showMaxLabel: false,
        formatter: v => ccaYLabels.some(t => Math.abs(t - v) < 1e-6) ? v.toFixed(1) : '' } },
    { gridIndex: 8, type: 'category', data: fPathways, inverse: true, position: 'right', axisLine: hidden, axisTick: hidden, splitLine: hidden,
      axisLabel: { interval: 0, fontSize: 5.6, fontFamily: serif, color: '#111', margin: 3 } },
    { gridIndex: 9, type: 'value', min: -0.5, max: 19.5, inverse: true, ...axisOff },
    { gridIndex: 10, type: 'value', min: 0, max: 1, ...axisOff },
    { gridIndex: 11, type: 'value', min: -2.98, max: 3.26, interval: 3.12, position: 'right', axisLine: hidden, axisTick: hidden, splitLine: hidden,
      axisLabel: { fontSize: 5.5, fontFamily: serif, color: '#222', margin: 2, formatter: v => v.toFixed(2) } }
  ],
  series: [
    // 0,1: LDA bars
    { name: 'Normal', type: 'bar', xAxisIndex: 0, yAxisIndex: 0, barCategoryGap: '16%', barGap: '-100%',
      data: ldaScores.map(v => (v > 0 ? v : '-')),
      itemStyle: { color: '#008000', borderColor: '#222', borderWidth: 0.6, shadowColor: 'rgba(0,0,0,0.35)', shadowOffsetX: 1, shadowOffsetY: 1.5 },
      label: { show: true, position: 'left', distance: 3, formatter: '{b}', fontSize: 5.5, fontFamily: sans, color: '#111' } },
    { name: 'Model', type: 'bar', xAxisIndex: 0, yAxisIndex: 0, barCategoryGap: '16%', barGap: '-100%',
      data: ldaScores.map(v => (v < 0 ? v : '-')),
      itemStyle: { color: '#ff0000', borderColor: '#222', borderWidth: 0.6, shadowColor: 'rgba(0,0,0,0.35)', shadowOffsetX: 1, shadowOffsetY: 1.5 },
      label: { show: true, position: 'right', distance: 3, formatter: '{b}', fontSize: 5.5, fontFamily: sans, color: '#111' } },
    // 2: cladogram key list
    { type: 'scatter', xAxisIndex: 1, yAxisIndex: 1, symbol: 'rect', symbolSize: [10, 5], silent: true,
      data: cladeTaxa.map((nm, i) => ({
        value: [i < 24 ? 0 : 1, i < 24 ? i : i - 24], name: cladeLetters[i] + ': ' + nm,
        itemStyle: { color: classColor[featClass[nm]], borderColor: '#111', borderWidth: 0.6 }
      })),
      label: { show: true, position: 'right', distance: 4, formatter: '{b}', fontSize: 5.5, fontFamily: sans, color: '#111' } },
    // 3: cladogram shaded clades
    { type: 'custom', coordinateSystem: 'polar', polarIndex: 0, silent: true, z: 1,
      data: cladeNodes.map(n => [cladeR[n.depth], n.a]),
      renderItem: (params, api) => {
        const n = cladeNodes[params.dataIndex];
        const cls = featClass[n.name];
        if (!cls || n.name === 'Bacteria') return null;
        const r0 = Math.max(cladeR[n.depth] - 4, 0), r1 = outerR(n.depth);
        const pts = arcPts(api, r1, n.a0 - 0.5, n.a1 + 0.5).concat(arcPts(api, r0, n.a1 + 0.5, n.a0 - 0.5));
        return { type: 'polygon', shape: { points: pts }, style: { fill: wedgeColor[cls], stroke: null } };
      } },
    // 4: cladogram branches
    { type: 'custom', coordinateSystem: 'polar', polarIndex: 0, silent: true, z: 2,
      data: cladeNodes.map(n => [cladeR[n.depth], n.a]),
      renderItem: (params, api) => {
        const n = cladeNodes[params.dataIndex];
        if (!n.parent) return null;
        const cls = featClass[n.name];
        const st = { stroke: cls ? classColor[cls] : '#111', lineWidth: cls ? 1.5 : cladeLineW[n.depth], fill: null };
        const kids = [{ type: 'polyline', shape: { points: [api.coord([cladeR[n.depth - 1], n.a]), api.coord([cladeR[n.depth], n.a])] },
          style: { stroke: st.stroke, lineWidth: cls ? 1.5 : cladeLineW[n.depth - 1] * 0.8, fill: null } }];
        if (n.children.length > 1) {
          kids.push({ type: 'polyline', shape: { points: arcPts(api, cladeR[n.depth], n.children[0].a, n.children[n.children.length - 1].a) }, style: st });
        }
        return { type: 'group', children: kids };
      } },
    // 5: cladogram nodes and letters
    { type: 'custom', coordinateSystem: 'polar', polarIndex: 0, silent: true, z: 3,
      data: cladeNodes.map(n => [cladeR[n.depth], n.a]),
      renderItem: (params, api) => {
        const n = cladeNodes[params.dataIndex];
        if (!n.parent) return null;
        const cls = featClass[n.name];
        const p = api.coord([cladeR[n.depth], n.a]);
        const leaf = !n.children.length;
        const kids = [{ type: 'circle', shape: { cx: p[0], cy: p[1], r: cls ? 2.4 : (leaf ? 1.0 : 1.5) },
          style: { fill: cls ? classColor[cls] : '#c8c800', stroke: '#555', lineWidth: 0.3 } }];
        if (cls && keyOf[n.name]) {
          const q = api.coord([outerR(n.depth) - 4, n.a]);
          kids.push({ type: 'text', x: q[0], y: q[1], style: { text: keyOf[n.name], fontSize: 5, fontFamily: sans, fill: '#222', align: 'center', verticalAlign: 'middle' } });
        }
        if (n.name === 'Epsilonbacteraeota' || n.name === 'Euryarchaeota') {
          const q = api.coord([outerR(n.depth) + 5, n.a]);
          kids.push({ type: 'text', x: q[0], y: q[1], rotation: n.name === 'Euryarchaeota' ? -Math.PI / 2 : 0,
            style: { text: n.name, fontSize: 5.5, fontFamily: sans, fill: cls === 'Model' ? '#b00000' : '#006400', align: 'center', verticalAlign: 'middle' } });
        }
        return { type: 'group', children: kids };
      } },
    // 6: correlation heatmap
    { type: 'heatmap', xAxisIndex: 2, yAxisIndex: 2, data: corrData, silent: true,
      itemStyle: { borderColor: '#9a9a9a', borderWidth: 0.4 },
      label: { show: true, formatter: p => (p.value[3] ? '*' : ''), color: '#fff', fontSize: 5, offset: [-0.5, 1] } },
    // 7,8: correlation dendrograms
    dendroSeries(corrTree, 3, false, '#555'),
    dendroSeries(corrTree, 4, true, '#555'),
    // 9: network
    { type: 'graph', coordinateSystem: 'cartesian2d', xAxisIndex: 6, yAxisIndex: 6, layout: 'none', silent: true,
      data: netNodes, links: netLinks, edgeSymbol: ['none', 'none'],
      lineStyle: { width: 0.9, opacity: 0.9 },
      label: { show: true, position: 'inside', fontSize: 6.6, fontFamily: 'Liberation Sans', color: '#222' } },
    // 10-14: CCA
    { name: 'Normal', type: 'scatter', xAxisIndex: 7, yAxisIndex: 7, data: ccaNormal, symbolSize: 7, itemStyle: { color: '#9acd32' }, silent: true, z: 3 },
    { name: 'Model', type: 'scatter', xAxisIndex: 7, yAxisIndex: 7, data: ccaModel, symbolSize: 7, itemStyle: { color: '#ffc000' }, silent: true, z: 3 },
    { type: 'scatter', xAxisIndex: 7, yAxisIndex: 7, data: ccaTaxa, symbolSize: 2.6, itemStyle: { color: '#0000ff' }, silent: true, z: 3 },
    { type: 'lines', coordinateSystem: 'cartesian2d', xAxisIndex: 7, yAxisIndex: 7, silent: true, z: 4,
      data: ccaEnv.map(([n, x, y]) => ({ name: n, coords: [[0, 0], [x, y]] })),
      symbol: ['none', 'arrow'], symbolSize: 5, lineStyle: { color: '#e60000', width: 1.3, opacity: 1 } },
    { type: 'scatter', xAxisIndex: 7, yAxisIndex: 7, symbolSize: 0, silent: true, z: 5,
      data: ccaEnvLabel.map(([n, x, y]) => ({ name: n, value: [x, y] })),
      label: { show: true, position: 'inside', formatter: '{b}', fontSize: 8.5, fontFamily: sans, color: '#333' } },
    // 15: KEGG heatmap
    { type: 'heatmap', xAxisIndex: 8, yAxisIndex: 8, data: fData, silent: true, itemStyle: { borderColor: '#fff', borderWidth: 0.6 } },
    // 16: KEGG dendrogram
    dendroSeries(fTree, 9, true, '#666'),
    // 17: group annotation
    { type: 'bar', xAxisIndex: 10, yAxisIndex: 10, barCategoryGap: '0%', silent: true,
      data: fSamples.map(s => ({ value: 1, itemStyle: { color: fGroupColors[s.split('-')[0]] } })) },
    // 18: CCA origin axes
    { type: 'lines', coordinateSystem: 'cartesian2d', xAxisIndex: 7, yAxisIndex: 7, silent: true, z: 2,
      data: [{ coords: [[0, ccaYRange[0]], [0, ccaYRange[1]]] }, { coords: [[ccaXRange[0], 0], [ccaXRange[1], 0]] }],
      lineStyle: { color: '#555', width: 1, opacity: 1 } }
  ]
};

const chart = echarts.init(document.getElementById('fig'), null, { renderer: 'canvas' });
chart.setOption(option);
</script>
</body>
</html>
